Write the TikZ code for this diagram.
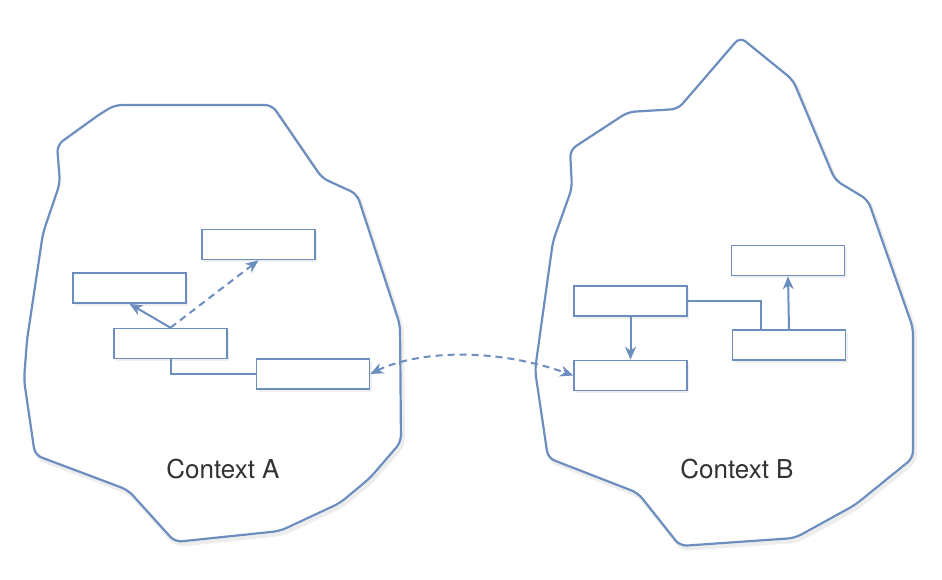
\documentclass[tikz,border=0pt]{standalone}
\usepackage{fontspec}
\setmainfont{TeX Gyre Heros}
\usetikzlibrary{arrows.meta,shadows}
\definecolor{edgeblue}{HTML}{6C8EBF}
\definecolor{txtgray}{HTML}{333333}
\begin{document}
\begin{tikzpicture}[x=1pt,y=-1pt,
  box/.style={draw=edgeblue, line width=1.6pt, fill=white, minimum width=113pt, minimum height=30pt, inner sep=0pt,
    drop shadow={opacity=0.12, shadow xshift=2pt, shadow yshift=-2.5pt}},
  blob/.style={draw=edgeblue, line width=2.2pt, rounded corners=7pt, fill=white},
  blobshadow/.style={draw=black, opacity=0.07, line width=4pt, rounded corners=7pt},
  conn/.style={draw=edgeblue, line width=2pt},
  arrowend/.style={-{Stealth[length=13pt,width=11pt,inset=4pt]}},
  bothends/.style={{Stealth[length=13pt,width=11pt,inset=4pt]}-{Stealth[length=13pt,width=11pt,inset=4pt]}},
  dashline/.style={dash pattern=on 7pt off 5pt},
  ctxtext/.style={text=txtgray, font=\fontsize{26}{31}\selectfont}]
\useasboundingbox (0,0) rectangle (942,580);

% blob shadows
\draw[blobshadow, shift={(2,3)}] (115,105) -- (272,105) -- (322,178) -- (357,194) -- (400,325) -- (401,442) -- (370,478) -- (340,503) -- (280,531) -- (175,542) -- (128,490) -- (35,455) -- (24,380) -- (27,340) -- (43,233) -- (60,183) -- (57,145) -- (100,114) -- cycle;
\draw[blobshadow, shift={(2,3)}] (570,150) -- (628,112) -- (678,109) -- (740,37) -- (793,80) -- (835,180) -- (868,200) -- (913,328) -- (913,458) -- (855,505) -- (795,538) -- (680,546) -- (638,493) -- (548,458) -- (535,370) -- (553,241) -- (572,188) -- cycle;

% blobs (contexts)
\draw[blob] (115,105) -- (272,105) -- (322,178) -- (357,194) -- (400,325) -- (401,442) -- (370,478) -- (340,503) -- (280,531) -- (175,542) -- (128,490) -- (35,455) -- (24,380) -- (27,340) -- (43,233) -- (60,183) -- (57,145) -- (100,114) -- cycle;
\draw[blob] (570,150) -- (628,112) -- (678,109) -- (740,37) -- (793,80) -- (835,180) -- (868,200) -- (913,328) -- (913,458) -- (855,505) -- (795,538) -- (680,546) -- (638,493) -- (548,458) -- (535,370) -- (553,241) -- (572,188) -- cycle;

% labels
\node[ctxtext] (ctxA) at (223,469) {Context A};
\node[ctxtext] (ctxB) at (737,469) {Context B};

% boxes context A
\node[box] (a1) at (258.5,244.5) {};
\node[box] (a2) at (129.5,288) {};
\node[box] (a3) at (170.5,343.5) {};
\node[box] (a4) at (313,374) {};

% boxes context B
\node[box] (b1) at (630.5,301) {};
\node[box] (b2) at (630.5,375.5) {};
\node[box] (b3) at (788,260.5) {};
\node[box] (b4) at (789,345) {};

% connectors A
\draw[conn, arrowend] (a3.north) -- (a2.south);
\draw[conn, arrowend, dashline] (a3.north) -- (a1.south);
\draw[conn] (a3.south) |- (a4.west);

% connectors B
\draw[conn, arrowend] (b1.south) -- (b2.north);
\draw[conn] (b1.east) -| ([xshift=-28pt]b4.north);
\draw[conn, arrowend] (b4.north) -- (b3.south);

% between contexts
\draw[conn, bothends, dashline] (a4.east) .. controls (415,352) and (490,346) .. (b2.west);
\end{tikzpicture}
\end{document}
